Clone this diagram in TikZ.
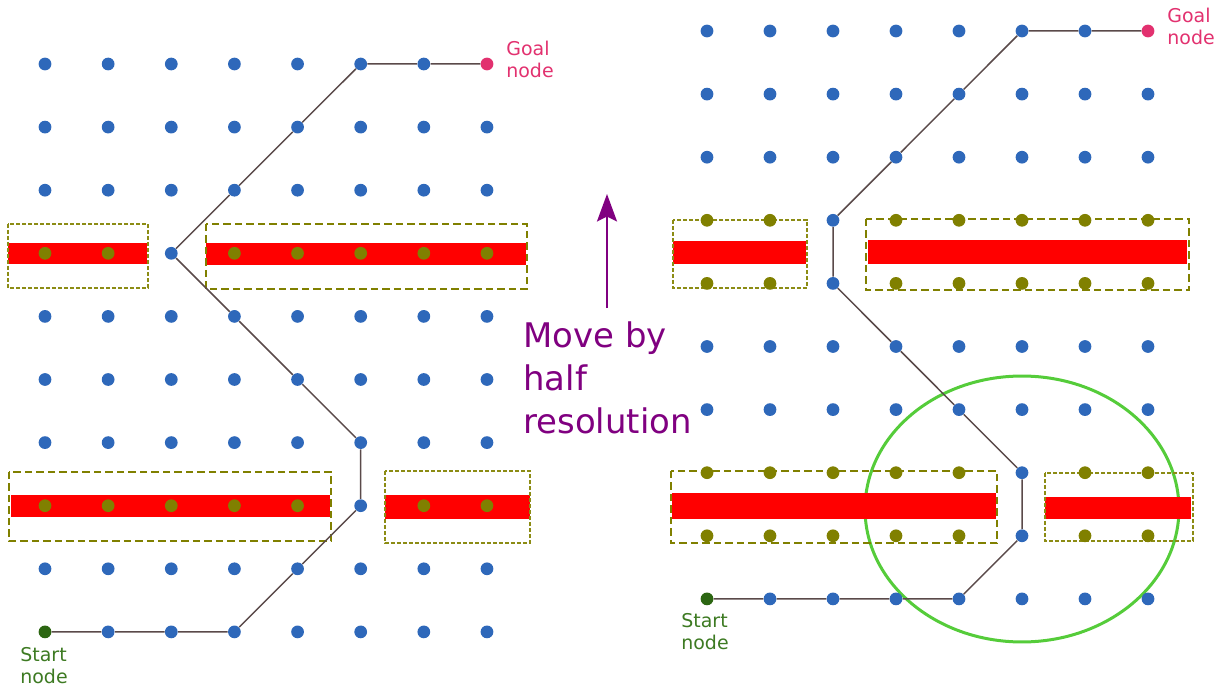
\documentclass[tikz,border=0pt]{standalone}
\usepackage{fontspec}
\setmainfont{DejaVu Sans}
\usetikzlibrary{arrows.meta}
\definecolor{dotblue}{HTML}{2E68BA}
\definecolor{obsolive}{HTML}{808000}
\definecolor{thinolive}{HTML}{8C8C14}
\definecolor{startgreen}{HTML}{2C6612}
\definecolor{starttext}{HTML}{3D7A22}
\definecolor{goalpink}{HTML}{E2316F}
\definecolor{movepurple}{HTML}{800080}
\definecolor{ellgreen}{HTML}{55CC3A}
\definecolor{routecol}{HTML}{5A4A4A}
\tikzset{
  gdot/.style={circle, inner sep=0pt, minimum size=0.255cm},
  bdot/.style={gdot, fill=dotblue},
  odot/.style={gdot, fill=obsolive},
  sdot/.style={gdot, fill=startgreen},
  goaldot/.style={gdot, fill=goalpink},
  thinbox/.style={draw=thinolive, line width=0.028cm, dash pattern=on 0.08cm off 0.04cm},
  thickbox/.style={draw=obsolive, line width=0.045cm, dash pattern=on 0.15cm off 0.08cm},
  redbar/.style={fill=red},
  route/.style={draw=routecol, line width=0.03cm},
  smalllbl/.style={anchor=west, align=left, inner sep=0pt, font=\fontsize{10.8}{12.6}\selectfont},
  movelbl/.style={anchor=west, align=left, inner sep=0pt, text=movepurple, font=\fontsize{19.3}{24.6}\selectfont},
  movearrow/.style={draw=movepurple, line width=0.05cm, -{Stealth[length=0.55cm, width=0.4cm, inset=0.1cm]}}
}
\begin{document}
\begin{tikzpicture}[x=0.02cm, y=-0.02cm]
\useasboundingbox (0,0) rectangle (1225,686);

% ---------- left obstacles ----------
\fill[redbar] (8,243) rectangle (147,264);
\draw[thinbox] (8,224) rectangle (148,288);
\fill[redbar] (206,243) rectangle (526,265);
\draw[thickbox] (206,224) rectangle (527,289);
\fill[redbar] (11,495) rectangle (330,517);
\draw[thickbox] (9,472) rectangle (331,541);
\fill[redbar] (385,495) rectangle (530,519);
\draw[thinbox] (385,471) rectangle (530,543);

% ---------- right obstacles ----------
\draw[ellgreen, line width=0.06cm] (1022,509) ellipse [x radius=3.14cm, y radius=2.66cm];
\fill[redbar] (673,241) rectangle (806,264);
\draw[thinbox] (673,220) rectangle (807,288);
\fill[redbar] (868,240) rectangle (1187,264);
\draw[thickbox] (866,219) rectangle (1189,290);
\fill[redbar] (672,493) rectangle (996,519);
\draw[thickbox] (671,471) rectangle (997,543);
\fill[redbar] (1045,497) rectangle (1191,519);
\draw[thinbox] (1045,473) rectangle (1193,541);

% ---------- left grid ----------
\foreach \j in {1,2,4,5,6,8}
  \foreach \i in {0,...,7}
    \node[bdot] (L\i-\j) at ({45+63.14*\i},{64+63.1*\j}) {};
\foreach \i in {0,...,6}
  \node[bdot] (L\i-0) at ({45+63.14*\i},64) {};
\node[goaldot] (L7-0) at ({45+63.14*7},64) {};
\node[sdot] (L0-9) at (45,{64+63.1*9}) {};
\foreach \i in {1,...,7}
  \node[bdot] (L\i-9) at ({45+63.14*\i},{64+63.1*9}) {};
\foreach \i in {0,1,3,4,5,6,7}
  \node[odot] (L\i-3) at ({45+63.14*\i},{64+63.1*3}) {};
\node[bdot] (L2-3) at ({45+63.14*2},{64+63.1*3}) {};
\foreach \i in {0,1,2,3,4,6,7}
  \node[odot] (L\i-7) at ({45+63.14*\i},{64+63.1*7}) {};
\node[bdot] (L5-7) at ({45+63.14*5},{64+63.1*7}) {};

% ---------- right grid ----------
\foreach \j in {1,2,5,6}
  \foreach \i in {0,...,7}
    \node[bdot] (R\i-\j) at ({707+63*\i},{31+63.1*\j}) {};
\foreach \i in {0,...,6}
  \node[bdot] (R\i-0) at ({707+63*\i},31) {};
\node[goaldot] (R7-0) at ({707+63*7},31) {};
\node[sdot] (R0-9) at (707,{31+63.1*9}) {};
\foreach \i in {1,...,7}
  \node[bdot] (R\i-9) at ({707+63*\i},{31+63.1*9}) {};
\foreach \j in {3,4} {
  \foreach \i in {0,1,3,4,5,6,7}
    \node[odot] (R\i-\j) at ({707+63*\i},{31+63.1*\j}) {};
  \node[bdot] (R2-\j) at ({707+63*2},{31+63.1*\j}) {};
}
\foreach \j in {7,8} {
  \foreach \i in {0,1,2,3,4,6,7}
    \node[odot] (R\i-\j) at ({707+63*\i},{31+63.1*\j}) {};
  \node[bdot] (R5-\j) at ({707+63*5},{31+63.1*\j}) {};
}

% ---------- routes ----------
\draw[route] (L0-9) -- (L1-9) -- (L2-9) -- (L3-9) -- (L4-8) -- (L5-7) -- (L5-6)
  -- (L4-5) -- (L3-4) -- (L2-3) -- (L3-2) -- (L4-1) -- (L5-0) -- (L6-0) -- (L7-0);
\draw[route] (R0-9) -- (R1-9) -- (R2-9) -- (R3-9) -- (R4-9) -- (R5-8) -- (R5-7)
  -- (R4-6) -- (R3-5) -- (R2-4) -- (R2-3) -- (R3-2) -- (R4-1) -- (R5-0) -- (R6-0) -- (R7-0);

% ---------- labels ----------
\node[smalllbl, text=goalpink] (Lgoal) at (506,59) {Goal\\node};
\node[smalllbl, text=goalpink] (Rgoal) at (1167,26) {Goal\\node};
\node[smalllbl, text=starttext] (Lstart) at (20,666) {Start\\node};
\node[smalllbl, text=starttext] (Rstart) at (681,632) {Start\\node};

% ---------- move annotation ----------
\node[movelbl] (move) at (523,378) {Move by\\half\\resolution};
\coordinate (abot) at (607,308);
\coordinate (atop) at (607,194);
\draw[movearrow] (abot) -- (atop);
\end{tikzpicture}
\end{document}
